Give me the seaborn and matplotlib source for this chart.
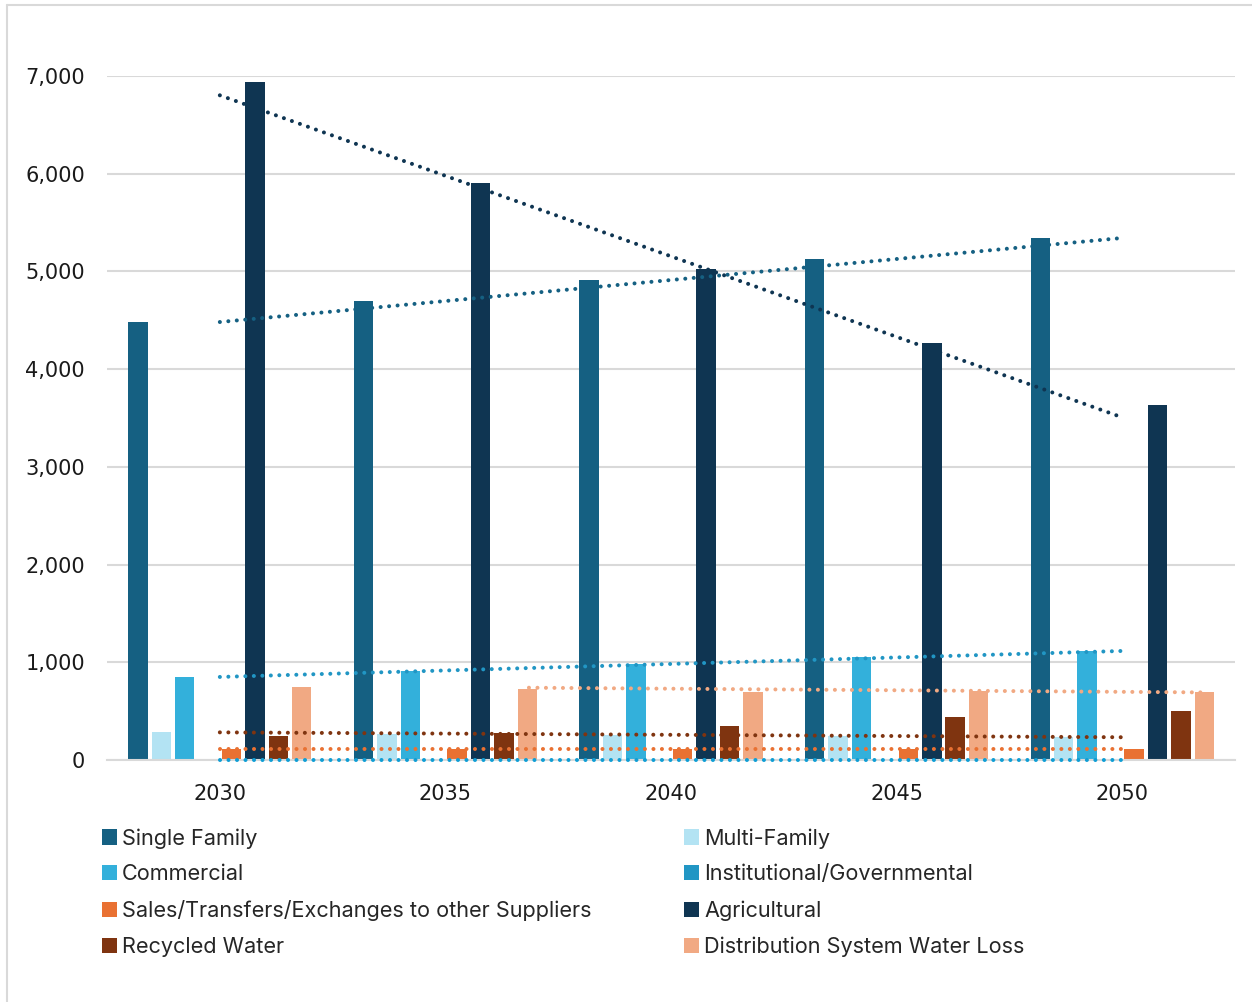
import numpy as np
import pandas as pd
import seaborn as sns
import matplotlib.pyplot as plt
from matplotlib.patches import Patch
from matplotlib.lines import Line2D

years = ["2030", "2035", "2040", "2045", "2050"]
series = ["Single Family", "Multi-Family", "Commercial", "Institutional/Governmental",
          "Sales/Transfers/Exchanges to other Suppliers", "Agricultural",
          "Recycled Water", "Distribution System Water Loss"]

single_family = [4480, 4700, 4910, 5130, 5340]
multi_family = [285, 270, 255, 245, 235]
commercial = [850, 915, 985, 1050, 1115]
institutional = [0, 0, 0, 0, 0]
sales = [110, 110, 110, 110, 110]
agricultural = [6940, 5900, 5025, 4270, 3635]
recycled = [245, 275, 350, 440, 500]
water_loss = [750, 725, 700, 705, 700]

colors = ["#156082", "#B3E3F3", "#33B0DB", "#2196C4",
          "#E97132", "#0F3552", "#7F3410", "#F1A983"]

values = [single_family, multi_family, commercial, institutional,
          sales, agricultural, recycled, water_loss]

df = pd.DataFrame({
    "year": np.tile(years, len(series)),
    "series": np.repeat(series, len(years)),
    "value": np.concatenate(values),
})

sns.set_style("white")
plt.rcParams['font.family'] = ['DejaVu Sans']

fig = plt.figure(figsize=(12.52, 10.02), dpi=100)
ax = fig.add_axes([0.0855, 0.2415, 0.901, 0.6827])

sns.barplot(data=df, x="year", y="value", hue="series", order=years, hue_order=series,
            palette=dict(zip(series, colors)), width=0.83, gap=0.17, linewidth=0,
            saturation=1, errorbar=None, ax=ax, legend=False)

# dotted linear trendlines (colours as in the original chart)
x = np.arange(len(years))
trends = [
    (agricultural, "#0F3552", 0, 4),
    (single_family, "#156082", 0, 4),
    (commercial, "#2196C4", 0, 4),
    (institutional, "#0F9ED5", 0, 4),
    (sales, "#E97132", 0, 4),
    (multi_family, "#7F3410", 0, 4),
    (water_loss, "#F1A983", 1.37, 4.35),
]
for vals, col, x0, x1 in trends:
    k, b = np.polyfit(x, vals, 1)
    ax.plot([x0, x1], [b, b + 4 * k], color=col, lw=2.9,
            linestyle=(0, (0.01, 2.1)), dash_capstyle='round', zorder=5,
            clip_on=False)

ax.set_xlim(-0.5, 4.5)
ax.set_ylim(0, 7000)
ax.set_yticks(range(0, 7001, 1000))
ax.yaxis.set_major_formatter(plt.FuncFormatter(lambda v, p: f"{int(v):,}"))
ax.grid(axis='y', color='#D9D9D9', lw=1.5)
ax.set_axisbelow(True)
for s in ['top', 'right', 'left']:
    ax.spines[s].set_visible(False)
ax.spines['bottom'].set_color('#D9D9D9')
ax.spines['bottom'].set_linewidth(1.5)
ax.tick_params(axis='both', length=0, labelsize=15, labelcolor='#1a1a1a')
ax.tick_params(axis='y', pad=16)
ax.tick_params(axis='x', pad=17)
ax.set_xlabel("")
ax.set_ylabel("")

# legend in two columns
handles = [Patch(facecolor=c, edgecolor='none') for c in colors]
left_idx = [0, 2, 4, 6]
right_idx = [1, 3, 5, 7]
for idx, xpos in [(left_idx, 0.0656), (right_idx, 0.5306)]:
    leg = fig.legend([handles[i] for i in idx], [series[i] for i in idx],
                     loc='upper left', bbox_to_anchor=(xpos, 0.193), frameon=False,
                     handlelength=0.7, handleheight=0.7, handletextpad=0.25,
                     labelspacing=0.73, prop={'family': 'Inter', 'size': 15.6})

# chart border (left and top edges visible)
fig.add_artist(Line2D([0.0056, 0.0056], [0, 0.995], color='#D9D9D9', lw=1.5))
fig.add_artist(Line2D([0.0056, 1], [0.995, 0.995], color='#D9D9D9', lw=1.5))

fig.savefig("out.png", dpi=100)
